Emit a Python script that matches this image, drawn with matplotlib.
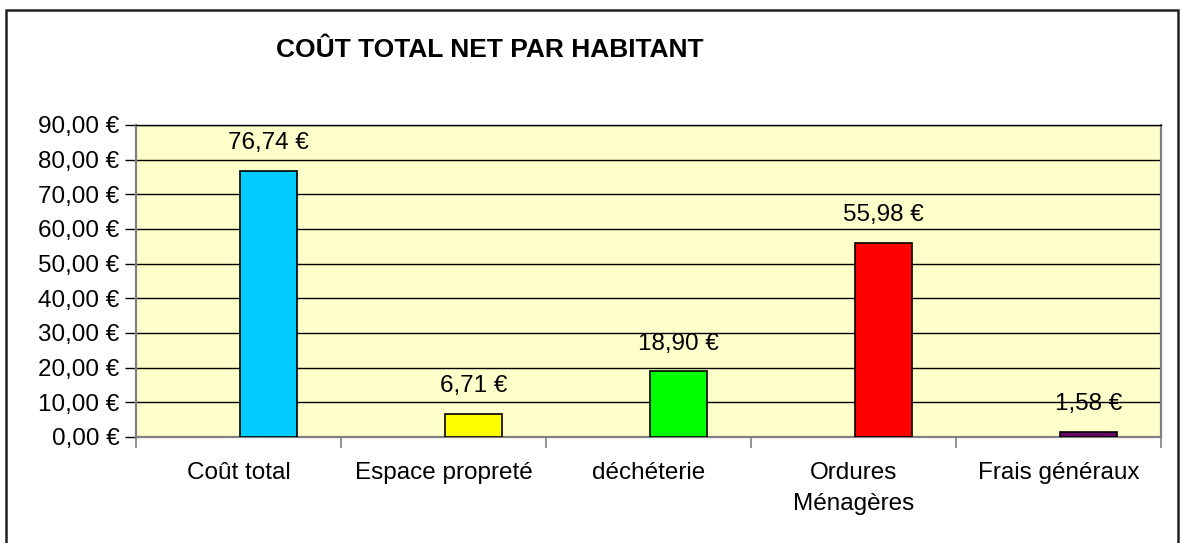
import matplotlib.pyplot as plt
import numpy as np
from matplotlib.patches import Rectangle
from matplotlib.ticker import FuncFormatter

plt.rcParams["font.family"] = ["Liberation Sans", "DejaVu Sans"]

# ---- data ----
categories = ["Coût total", "Espace propreté", "déchéterie", "Ordures\nMénagères", "Frais généraux"]
values = [76.74, 6.71, 18.90, 55.98, 1.58]
bar_colors = ["#00CCFF", "#FFFF00", "#00FF00", "#FF0000", "#660066"]
y_ticks = [0, 10, 20, 30, 40, 50, 60, 70, 80, 90]
title = "COÛT TOTAL NET PAR HABITANT"


def euro(v, _pos=None):
    return f"{v:,.2f} €".replace(",", " ").replace(".", ",")


FS = 17.5

fig = plt.figure(figsize=(11.82, 5.43), dpi=100)
ax = fig.add_axes([136 / 1182, 1 - 437 / 543, (1161 - 136) / 1182, (437 - 125) / 543])
ax.set_facecolor("#FFFFCC")

x = np.arange(len(categories))
offset = 0.146
ax.bar(x + offset, values, width=0.28, color=bar_colors, edgecolor="black",
       linewidth=1.2, zorder=3)

for xi, v in zip(x, values):
    ax.annotate(euro(v), (xi + offset, v), xytext=(0, 12), textcoords="offset points",
                ha="center", va="bottom", fontsize=FS, color="black")

ax.set_xlim(-0.5, len(categories) - 0.5)
ax.set_ylim(0, 90)
ax.set_yticks(y_ticks)
ax.yaxis.set_major_formatter(FuncFormatter(euro))
ax.yaxis.grid(True, color="black", linewidth=1.0, zorder=1)
ax.set_axisbelow(True)

# categories labelled at centres, ticks at boundaries
ax.set_xticks(x)
ax.set_xticklabels(categories, fontsize=FS, linespacing=1.55)
ax.tick_params(axis="x", length=0, pad=18)
ax.set_xticks(np.arange(len(categories) + 1) - 0.5, minor=True)
ax.tick_params(axis="x", which="minor", length=8, width=1.2, color="#808080")
ax.tick_params(axis="y", length=8, width=1.0, color="black", labelsize=FS, pad=4)

for side in ("left", "bottom", "right"):
    ax.spines[side].set_color("#808080")
    ax.spines[side].set_linewidth(1.6)
ax.spines["top"].set_color("black")
ax.spines["top"].set_linewidth(1.0)

fig.text(490 / 1182, 1 - 50 / 543, title, ha="center", va="center",
         fontsize=19, fontweight="bold")

# outer chart frame
fig.patches.append(Rectangle((6 / 1182, -0.02), (1178 - 6) / 1182, 1.02 - 10 / 543,
                             transform=fig.transFigure, fill=False,
                             edgecolor="#222222", linewidth=1.8))

fig.savefig("out.png", dpi=100)
